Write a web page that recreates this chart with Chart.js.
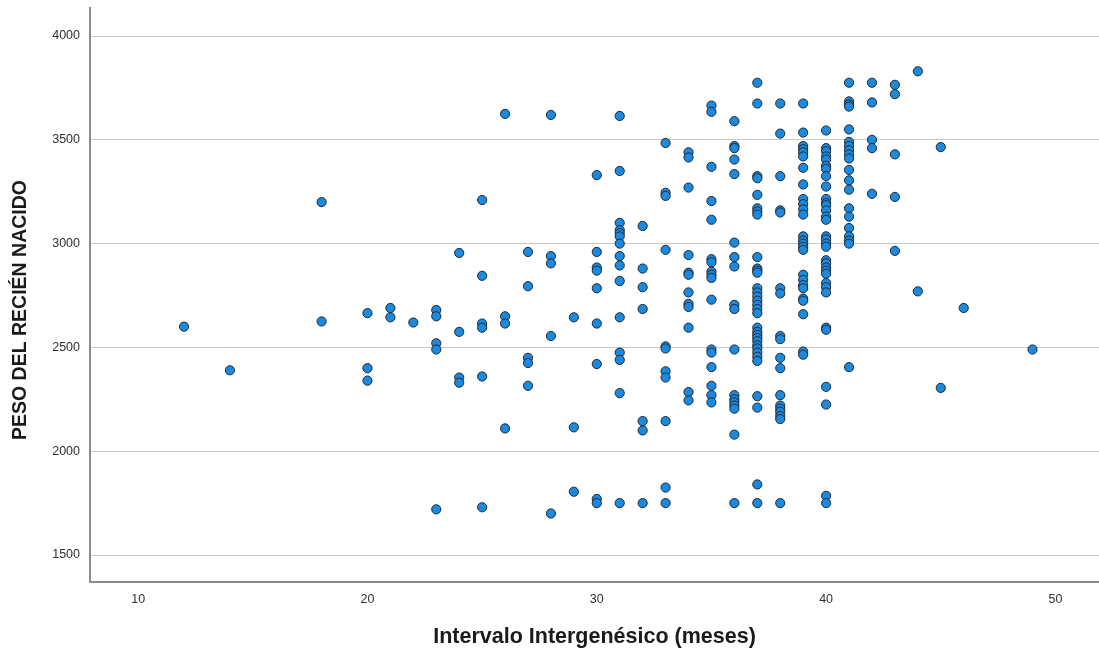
<!DOCTYPE html>
<html>
<head>
<meta charset="utf-8">
<script src="https://cdn.jsdelivr.net/npm/chart.js@4.4.0/dist/chart.umd.min.js"></script>
<style>
  html, body { margin: 0; padding: 0; background: #fff; overflow: hidden; }
  canvas { display: block; }
</style>
</head>
<body>
<canvas id="scatter" width="1099" height="653"></canvas>
<script>
// Intervalo intergenésico (meses) -> pesos observados en ese mes
const meses = [12, 14, 18, 20, 21, 22, 23, 24, 25, 26, 27, 28, 29, 30, 31, 32, 33, 34, 35, 36, 37, 38, 39, 40, 41, 42, 43, 44, 45, 46, 49];
const pesos = [
  [2600],
  [2390],
  [3200, 2625],
  [2665, 2400, 2340],
  [2690, 2645],
  [2620],
  [2680, 2650, 2520, 2490, 1720],
  [2955, 2575, 2355, 2330],
  [3210, 2845, 2615, 2595, 2360, 1730],
  [3625, 2650, 2615, 2110],
  [2960, 2795, 2450, 2425, 2315],
  [3620, 2940, 2905, 2555, 1700],
  [2645, 2115, 1805],
  [3330, 2960, 2885, 2870, 2785, 2615, 2420, 1770, 1750],
  [3615, 3350, 3100, 3065, 3050, 3035, 3000, 2940, 2895, 2820, 2645, 2475, 2440, 2280, 1750],
  [3085, 2880, 2790, 2685, 2145, 2100, 1750],
  [3485, 3245, 3230, 2970, 2505, 2495, 2385, 2355, 2145, 1825, 1750],
  [3440, 3415, 3270, 2945, 2860, 2850, 2765, 2710, 2695, 2595, 2285, 2245],
  [3665, 3635, 3370, 3205, 3115, 2925, 2910, 2865, 2850, 2835, 2730, 2490, 2475, 2405, 2315, 2270, 2235],
  [3590, 3470, 3460, 3405, 3335, 3005, 2935, 2890, 2705, 2685, 2490, 2270, 2250, 2235, 2220, 2205, 2080, 1750],
  [3775, 3675, 3325, 3315, 3235, 3170, 3155, 3140, 2935, 2880, 2870, 2860, 2785, 2765, 2745, 2725, 2705, 2685, 2665,
   2595, 2575, 2560, 2545, 2530, 2510, 2495, 2475, 2455, 2435, 2265, 2210, 1840, 1750],
  [3675, 3530, 3325, 3160, 3150, 2785, 2760, 2555, 2540, 2450, 2400, 2270, 2220, 2205, 2190, 2170, 2155, 1750],
  [3675, 3535, 3470, 3455, 3440, 3420, 3365, 3285, 3215, 3190, 3165, 3140, 3035, 3015, 3000, 2985, 2970,
   2850, 2825, 2800, 2785, 2735, 2725, 2660, 2480, 2465],
  [3545, 3460, 3445, 3420, 3405, 3375, 3360, 3325, 3275, 3215, 3195, 3185, 3160, 3130, 3115, 3035, 3020, 3000, 2985,
   2920, 2905, 2885, 2870, 2855, 2810, 2790, 2765, 2595, 2585, 2310, 2225, 1785, 1750],
  [3775, 3685, 3670, 3660, 3550, 3490, 3470, 3450, 3430, 3410, 3355, 3305, 3260, 3170, 3130, 3075, 3035, 3015, 3000, 2405],
  [3775, 3680, 3500, 3460, 3240],
  [3765, 3720, 3430, 3225, 2965],
  [3830, 2770],
  [3465, 2305],
  [2690],
  [2490]
];

const xTicks = [10, 20, 30, 40, 50];
const yTicks = [1500, 2000, 2500, 3000, 3500, 4000];
const yTitle = 'PESO DEL RECIÉN NACIDO';
const xTitle = 'Intervalo Intergenésico (meses)';

const puntos = [];
meses.forEach((m, i) => {
  pesos[i].forEach(p => puntos.push({ x: m, y: p }));
});

const FONT = "'Liberation Sans', Arial, sans-serif";

function keepTicks(list) {
  return (scale) => {
    scale.ticks = list.map(v => ({ value: v }));
  };
}

// no extra room around the plot for first/last tick labels
function noPadding(scale) {
  scale.paddingTop = 0;
  scale.paddingBottom = 0;
  scale.paddingLeft = 0;
  scale.paddingRight = 0;
}

// y title drawn by hand: SPSS uses a narrow bold face, so squeeze it to length
const yTitlePlugin = {
  id: 'yTitle',
  afterDraw: (chart) => {
    const { ctx } = chart;
    ctx.save();
    ctx.font = `bold 20px ${FONT}`;
    ctx.fillStyle = '#1a1a1a';
    ctx.textAlign = 'center';
    ctx.textBaseline = 'middle';
    const w = ctx.measureText(yTitle).width;
    const sx = Math.min(1, 260 / w);
    ctx.translate(20, 310);
    ctx.rotate(-Math.PI / 2);
    ctx.scale(sx, 1);
    ctx.fillText(yTitle, 0, 0);
    ctx.restore();
  }
};

new Chart(document.getElementById('scatter'), {
  type: 'scatter',
  data: {
    datasets: [{
      data: puntos,
      backgroundColor: '#1a8ae0',
      borderColor: '#202830',
      borderWidth: 1,
      pointRadius: 4.6,
      pointHoverRadius: 4.6
    }]
  },
  options: {
    responsive: false,
    animation: false,
    layout: { autoPadding: false, padding: { top: 8, right: 0, left: 0, bottom: 0 } },
    plugins: {
      legend: { display: false },
      tooltip: { enabled: false }
    },
    scales: {
      x: {
        type: 'linear',
        min: 7.9,
        max: 51.9,
        afterBuildTicks: keepTicks(xTicks),
        afterFit: (scale) => { scale.height = 71; noPadding(scale); },
        grid: { display: false, drawTicks: false },
        border: { display: true, color: '#8c8c8c', width: 2 },
        ticks: {
          padding: 10,
          color: '#303030',
          font: { family: FONT, size: 12.5 },
          callback: (v) => String(v)
        },
        title: {
          display: true,
          text: xTitle,
          color: '#1a1a1a',
          font: { family: FONT, size: 21.5, weight: 'bold' },
          padding: { top: 0, bottom: 3 }
        }
      },
      y: {
        type: 'linear',
        min: 1370,
        max: 4135,
        afterBuildTicks: keepTicks(yTicks),
        afterFit: (scale) => { scale.width = 90; noPadding(scale); },
        grid: { color: '#c8c8c8', lineWidth: 1, drawTicks: false },
        border: { display: true, color: '#8c8c8c', width: 2 },
        ticks: {
          padding: 10,
          color: '#303030',
          font: { family: FONT, size: 12.5 },
          callback: (v) => String(v)
        },
        title: { display: false }
      }
    }
  },
  plugins: [yTitlePlugin]
});
</script>
</body>
</html>
